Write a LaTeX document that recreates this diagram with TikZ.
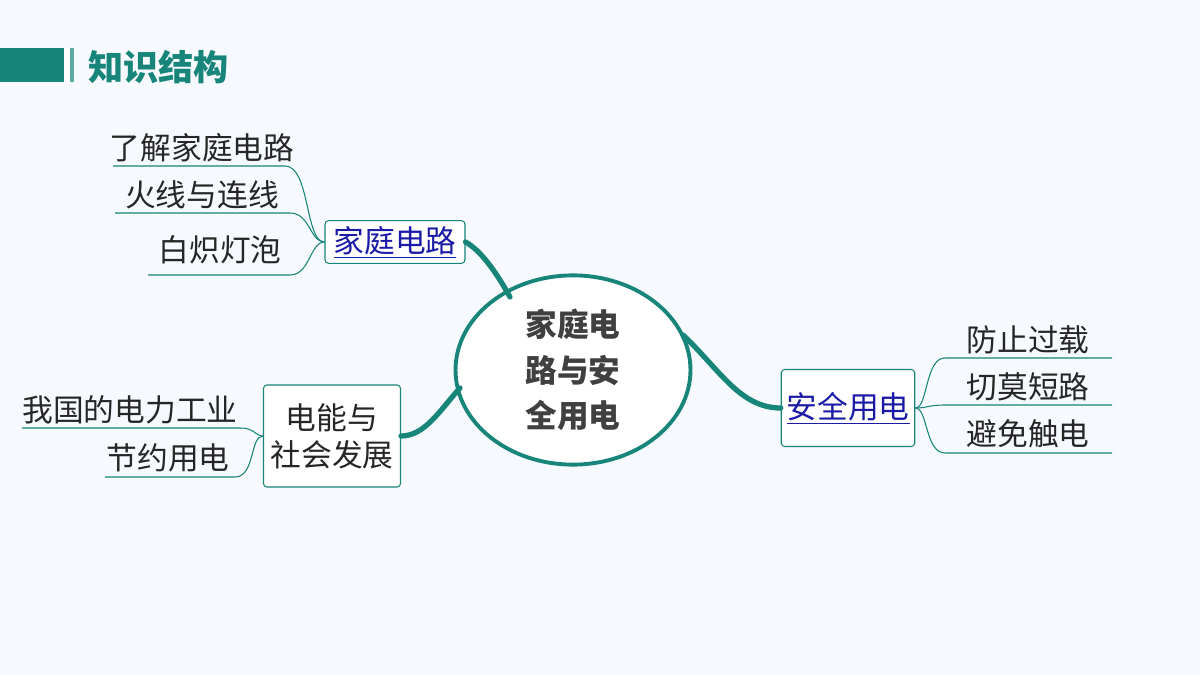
\documentclass[tikz,border=0pt]{standalone}
\usepackage{fontspec}
\setmainfont{Noto Sans CJK SC}
\usetikzlibrary{positioning,shapes.geometric}
\definecolor{teal1}{HTML}{17857A}
\definecolor{bgc}{HTML}{F6F9FD}
\definecolor{linkc}{HTML}{1A1AA6}
\tikzset{
  branch/.style={draw=teal1, rounded corners=2pt, line width=0.6pt, fill=white, inner sep=3pt},
  leaf/.style={font=\fontsize{17.5}{21}\selectfont, text=black!85, inner sep=1pt},
  twig/.style={draw=teal1, line width=0.6pt},
  trunk/.style={draw=teal1, line width=3pt, line cap=round},
  lnk/.style={font=\fontsize{17.5}{21}\selectfont, text=linkc}
}
\begin{document}
\begin{tikzpicture}[x=0.02cm,y=-0.02cm]
    \fill[bgc] (0,0) rectangle (1200,675);
    \useasboundingbox (0,0) rectangle (1200,675);

    % title
    \fill[teal1] (0,48) rectangle (64,82);
    \fill[white] (64,48) rectangle (70,82);
    \fill[teal1!70] (70,48) rectangle (74,82);
    \node[anchor=west, font=\bfseries\fontsize{20}{24}\selectfont, text=teal1] (title) at (82,67) {知识结构};

    % centre
    \node[ellipse, draw=teal1, line width=2.2pt, fill=white, minimum width=4.7cm, minimum height=3.2cm,
          align=center, font=\bfseries\fontsize{18}{26}\selectfont, text=black!75] (core) at (573,370) {家庭电\\路与安\\全用电};

    % branches
    \node[branch, lnk, minimum width=2.8cm, minimum height=0.8cm] (home) at (395,242) {\underline{家庭电路}};
    \node[branch, lnk, minimum width=2.54cm, minimum height=1.54cm] (safe) at (848,408) {\underline{安全用电}};
    \node[branch, leaf, align=center, inner sep=4pt, minimum width=2.74cm, minimum height=2.04cm] (power) at (332,436) {电能与\\社会发展};

    % trunks
    \draw[trunk] (home.east) .. controls (480,250) and (495,270) .. (510,297);
    \draw[trunk] (683,335) .. controls (720,370) and (740,408) .. (safe.west);
    \draw[trunk] (460,388) .. controls (440,410) and (425,436) .. (power.east);

    % leaves of home
    \node[leaf] (h1) at (202,148) {了解家庭电路};
    \node[leaf] (h2) at (202,195) {火线与连线};
    \node[leaf] (h3) at (220,250) {白炽灯泡};
    \coordinate (h1a) at (113,166); \coordinate (h1b) at (285,166);
    \coordinate (h2a) at (115,213); \coordinate (h2b) at (290,213);
    \coordinate (h3a) at (148,275); \coordinate (h3b) at (290,275);
    \draw[twig] (h1a) -- (h1b) .. controls (310,166) and (305,242) .. (home.west);
    \draw[twig] (h2a) -- (h2b) .. controls (310,213) and (310,242) .. (home.west);
    \draw[twig] (h3a) -- (h3b) .. controls (310,275) and (310,242) .. (home.west);

    % leaves of safe
    \node[leaf] (s1) at (1028,340) {防止过载};
    \node[leaf] (s2) at (1028,387) {切莫短路};
    \node[leaf] (s3) at (1028,434) {避免触电};
    \coordinate (s1a) at (1112,358); \coordinate (s1b) at (945,358);
    \coordinate (s2a) at (1112,405); \coordinate (s2b) at (945,405);
    \coordinate (s3a) at (1112,453); \coordinate (s3b) at (945,453);
    \draw[twig] (safe.east) .. controls (928,408) and (925,358) .. (s1b) -- (s1a);
    \draw[twig] (safe.east) .. controls (928,408) and (928,405) .. (s2b) -- (s2a);
    \draw[twig] (safe.east) .. controls (928,408) and (925,453) .. (s3b) -- (s3a);

    % leaves of power
    \node[leaf] (p1) at (130,410) {我国的电力工业};
    \node[leaf] (p2) at (168,458) {节约用电};
    \coordinate (p1a) at (22,428); \coordinate (p1b) at (240,428);
    \coordinate (p2a) at (105,477); \coordinate (p2b) at (235,477);
    \draw[twig] (p1a) -- (p1b) .. controls (255,428) and (255,436) .. (power.west);
    \draw[twig] (p2a) -- (p2b) .. controls (255,477) and (250,436) .. (power.west);
\end{tikzpicture}
\end{document}
